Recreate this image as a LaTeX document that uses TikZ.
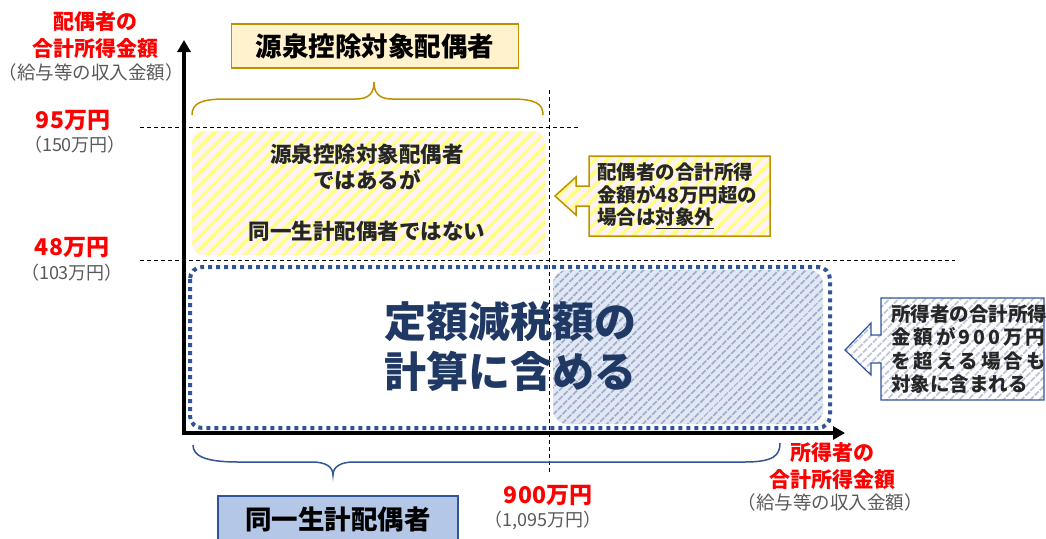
\documentclass[tikz,border=0pt]{standalone}
\usepackage{fontspec}
\setmainfont{Noto Sans CJK JP}
\usetikzlibrary{arrows.meta,patterns.meta}

\definecolor{label red}{HTML}{FF0000}
\definecolor{note gray}{HTML}{595959}
\definecolor{gold line}{HTML}{BF9000}
\definecolor{gold fill}{HTML}{FFF2CC}
\definecolor{navy line}{HTML}{2F5597}
\definecolor{navy fill}{HTML}{B4C7E7}
\definecolor{navy text}{HTML}{203864}
\definecolor{body text}{HTML}{262626}
\definecolor{blue stripe}{HTML}{A2AACA}
\definecolor{blue ground}{HTML}{DFE8F4}
\colorlet{yellow stripe}{yellow!50!white}
\colorlet{yellow ground}{magenta!5!white}

\tikzset{
    x={1pt},
    y={-1pt},
    axis/.style={
        line width={4pt},
        -{Triangle[length=12pt,width=13pt]},
    },
    guide/.style={
        draw=black,
        line width={0.8pt},
        dash pattern=on 4pt off 3pt,
    },
    brace line/.style={
        draw={#1},
        line width={1.5pt},
    },
    yellow hatch/.style={
        preaction={fill=yellow ground},
        pattern={Lines[angle=45,distance=9pt,line width=3.5pt]},
        pattern color=yellow stripe,
    },
    blue hatch/.style={
        preaction={fill=blue ground},
        pattern={Lines[angle=45,distance=6.5pt,line width=2pt]},
        pattern color=blue stripe,
    },
    dotted frame/.style={
        draw=navy line,
        line width={4pt},
        dash pattern=on 4pt off 4pt,
        rounded corners={12pt},
    },
    title box/.style 2 args={
        draw={#1}, fill={#2},
        line width={1.5pt},
        font={\fontsize{26.5pt}{30pt}\selectfont\bfseries},
        inner sep=0pt,
    },
    value label/.style={
        text=label red,
        align=center,
        font={\fontsize{21pt}{27pt}\selectfont\bfseries},
    },
    amount label/.style={
        text=label red,
        font={\fontsize{23pt}{26pt}\selectfont\bfseries},
    },
    note label/.style={
        text=note gray,
        font={\fontsize{#1}{#1}\selectfont},
    },
    note label/.default={18.5pt},
    callout text/.style={
        text=body text,
        align=left,
        anchor=west,
        inner sep=0pt,
        font={\fontsize{19.5pt}{#1}\selectfont\bfseries},
    },
}

\begin{document}
\begin{tikzpicture}
\useasboundingbox (0,0) rectangle (1046,538);
% regions
\path[yellow hatch, rounded corners={12pt}] (192,131) rectangle (545,255);
\path[blue hatch, rounded corners={14pt}] (553,270) rectangle (823,424);
\draw[dotted frame] (190,267) rectangle (830,428);
% guide lines
\coordinate (g95 west) at (140,127);
\coordinate (g95 east) at (578,127);
\coordinate (g48 west) at (140,260);
\coordinate (g48 east) at (955,260);
\coordinate (g900 north) at (549,90);
\coordinate (g900 south) at (549,473);
\draw[guide] (g95 west) -- (g95 east);
\draw[guide] (g48 west) -- (g48 east);
\draw[guide] (g900 north) -- (g900 south);
% axes
\coordinate (origin x) at (182,433);
\coordinate (origin y) at (184,435);
\coordinate (x tip) at (845,433);
\coordinate (y tip) at (184,40);
\draw[axis] (origin x) -- (x tip);
\draw[axis] (origin y) -- (y tip);
% braces
\path[brace line={gold line}] (192,115) .. controls (192,104) and (200,99) .. (225,99) -- (356,99) .. controls (369,99) and (374,93) .. (374,82) .. controls (374,93) and (379,99) .. (392,99) -- (511,99) .. controls (536,99) and (543,104) .. (543,115);
\path[brace line={navy line}] (193,445) .. controls (193,455) and (203,462) .. (238,462) -- (312,462) .. controls (326,462) and (333,467) .. (333,475) .. controls (333,467) and (340,462) .. (354,462) -- (745,462) .. controls (774,462) and (780,455) .. (780,443);
% callouts
\path[yellow hatch, draw=gold line, line width={1.5pt}] (589,156) -- (770,156) -- (770,236) -- (589,236) -- (589,206) -- (576,206) -- (576,215) -- (555,196) -- (576,177) -- (576,186) -- (589,186) -- cycle;
\path[blue hatch, preaction={fill=white}, pattern color=blue stripe!70!white, draw=navy line, line width={1.2pt}] (881,298) -- (1044,298) -- (1044,400) -- (881,400) -- (881,363) -- (871,363) -- (871,375) -- (845,350) -- (871,323) -- (871,335) -- (881,335) -- cycle;
% texts
\node[title box={gold line}{gold fill}, minimum width=287, minimum height=44] (gensen title) at (375,46) {源泉控除対象配偶者};
\node[title box={navy line}{navy fill}, minimum width=240, minimum height=46] (doitsu title) at (338,519) {同一生計配偶者};
\node[text=body text, align=center, font={\fontsize{21.5pt}{25.5pt}\selectfont\bfseries}] (yellow note) at (367,193) {源泉控除対象配偶者\\ではあるが\\[25.5pt]同一生計配偶者ではない};
\node[text=navy text, align=center, font={\fontsize{42pt}{50pt}\selectfont\bfseries}] (main note) at (510,347) {定額減税額の\\計算に含める};
\node[callout text={22.5pt}] (gold note) at (597,196) {配偶者の合計所得\\金額が48万円超の\\場合は\underline{対象外}};
\node[callout text={23.5pt}] (blue note) at (891,349) {所得者の合計所得\\\makebox[152pt][s]{金 額 が 9 0 0 万 円}\\\makebox[152pt][s]{を 超 え る 場 合 も}\\対象に含まれる};
% axis labels
\node[value label] (y title) at (95,35) {配偶者の\\合計所得金額};
\node[note label] (y note) at (91,72) {（給与等の収入金額）};
\node[value label] (x title) at (832,466) {所得者の\\合計所得金額};
\node[note label] (x note) at (830,502) {（給与等の収入金額）};
\node[amount label] (v95) at (73,120) {95万円};
\node[note label={18pt}] (v95 note) at (75,145) {（150万円）};
\node[amount label] (v48) at (72,247) {48万円};
\node[note label={18pt}] (v48 note) at (72,273) {（103万円）};
\node[amount label] (v900) at (548,495) {900万円};
\node[note label={18pt}] (v900 note) at (543,520) {（1,095万円）};
\end{tikzpicture}
\end{document}
